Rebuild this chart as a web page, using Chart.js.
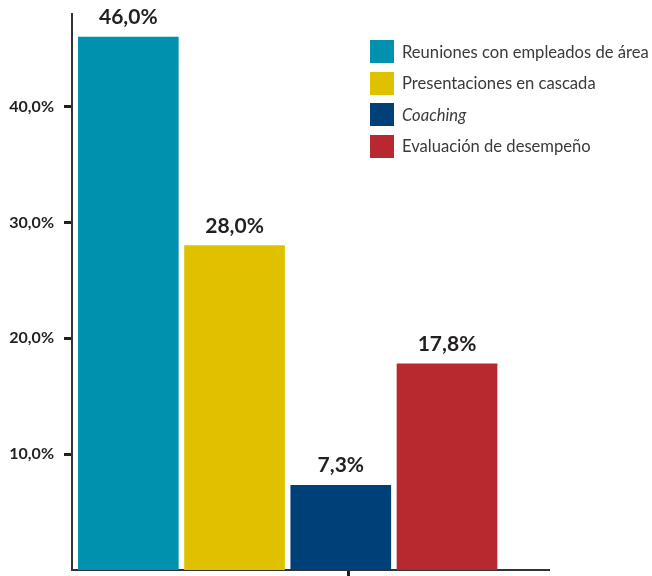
<!DOCTYPE html>
<html lang="es">
<head>
<meta charset="utf-8">
<script src="https://cdn.jsdelivr.net/npm/chart.js@4"></script>
<style>
    body { margin: 0; background: #fff; }
    #wrap { position: relative; width: 652px; height: 576px; }
    #legend { position: absolute; left: 370px; top: 40px; font-family: Lato, "Open Sans", sans-serif; font-size: 16.6px; color: #3a3a3a; white-space: nowrap; }
    .legend-item { display: flex; align-items: center; height: 23px; margin-bottom: 8.5px; }
    .legend-box { width: 24px; height: 23px; margin-right: 8px; flex: none; }
</style>
</head>
<body>
<div id="wrap">
    <canvas id="bars"></canvas>
    <div id="legend"></div>
</div>
<script>
    const categories = ['Reuniones con empleados de área', 'Presentaciones en cascada', 'Coaching', 'Evaluación de desempeño'];
    const values = [46.0, 28.0, 7.3, 17.8];
    const colors = ['#0091ae', '#e0c100', '#004078', '#b8282f'];
    const italicLabels = ['Coaching'];
    const yTicks = [10, 20, 30, 40];

    const fmt = v => v.toFixed(1).replace('.', ',') + '%';

    // values printed above each bar
    const barLabels = {
        id: 'barLabels',
        afterDatasetsDraw(chart) {
            const ctx = chart.ctx;
            ctx.save();
            ctx.font = 'bold 21px Lato, sans-serif';
            ctx.fillStyle = '#231f20';
            ctx.textAlign = 'center';
            ctx.textBaseline = 'alphabetic';
            chart.data.datasets.forEach((ds, i) => {
                chart.getDatasetMeta(i).data.forEach((bar, j) => {
                    ctx.fillText(fmt(ds.data[j].y), bar.x, bar.y - 13);
                });
            });
            ctx.restore();
        }
    };

    const datasets = categories.map((name, i) => ({
        label: name,
        data: [{x: i + 1, y: values[i]}],
        backgroundColor: colors[i],
        barThickness: 100,
        grouped: false
    }));

    new Chart(document.getElementById('bars'), {
        type: 'bar',
        data: {datasets: datasets},
        options: {
            responsive: true,
            maintainAspectRatio: false,
            animation: false,
            layout: {padding: {top: 14, right: 103, left: 0, bottom: 0}},
            plugins: {
                legend: {display: false},
                tooltip: {enabled: false}
            },
            scales: {
                x: {
                    type: 'linear',
                    offset: false,
                    min: 0.47,
                    max: 4.96,
                    afterBuildTicks: scale => { scale.ticks = [{value: 3.07}]; },
                    afterFit: scale => {
                        scale.height = 6;
                        scale.paddingLeft = 0;
                        scale.paddingRight = 0;
                    },
                    ticks: {display: false},
                    grid: {offset: false, drawOnChartArea: false, tickLength: 6, tickWidth: 3, tickColor: '#231f20'},
                    border: {color: '#333', width: 2}
                },
                y: {
                    min: 0,
                    max: 48,
                    afterBuildTicks: scale => { scale.ticks = yTicks.map(v => ({value: v})); },
                    afterFit: scale => {
                        scale.width = 72;
                        scale.paddingTop = 0;
                        scale.paddingBottom = 0;
                    },
                    ticks: {
                        callback: v => fmt(v),
                        color: '#231f20',
                        padding: 10,
                        font: {family: 'Lato', size: 16, weight: 'bold'}
                    },
                    grid: {drawOnChartArea: false, tickLength: 8, tickWidth: 3, tickColor: '#231f20'},
                    border: {color: '#333', width: 2}
                }
            }
        },
        plugins: [barLabels]
    });

    // legend built as html so one entry can be set in italics
    const legendEl = document.getElementById('legend');
    categories.forEach((name, i) => {
        const item = document.createElement('div');
        item.className = 'legend-item';
        const box = document.createElement('span');
        box.className = 'legend-box';
        box.style.background = colors[i];
        const text = document.createElement('span');
        text.textContent = name;
        if (italicLabels.includes(name)) text.style.fontStyle = 'italic';
        item.appendChild(box);
        item.appendChild(text);
        legendEl.appendChild(item);
    });
</script>
</body>
</html>
